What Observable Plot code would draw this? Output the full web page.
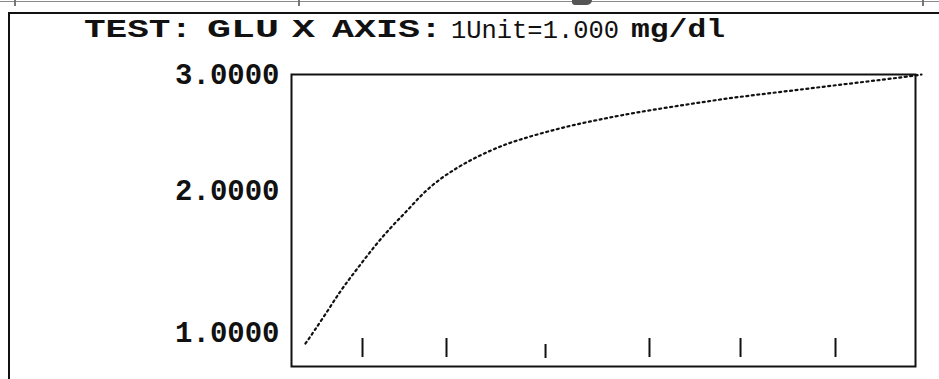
<!DOCTYPE html>
<html>
<head>
<meta charset="utf-8">
<script src="https://cdn.jsdelivr.net/npm/d3@7"></script>
<script src="https://cdn.jsdelivr.net/npm/@observablehq/plot@0.6"></script>
<style>
  html, body { margin: 0; padding: 0; background: #fff; }
  #page { position: relative; width: 939px; height: 379px; overflow: hidden; background: #fff; }
  #topline { position: absolute; left: 0; top: 1px; width: 939px; height: 1px; background: #8a8a8a; }
  .stub { position: absolute; top: 0; width: 2px; height: 6px; background: #777; }
  #blob { position: absolute; left: 572px; top: 0; width: 20px; height: 5px; background: #555; border-radius: 0 0 10px 6px; }
  #box { position: absolute; left: 8px; top: 12px; width: 960px; height: 400px; border-left: 2px solid #111; border-top: 2px solid #111; box-sizing: border-box; }
  .t { position: absolute; top: 16px; font-family: "Liberation Mono", monospace; font-size: 25px; font-weight: bold; line-height: 30px; color: #111; white-space: pre; transform-origin: 0 0; }
  .t.num { font-size: 26px; font-weight: normal; }
  #chart { position: absolute; left: 0; top: 0; }
</style>
</head>
<body>
<div id="page">
  <div id="topline"></div>
  <div class="stub" style="left:14px"></div>
  <div class="stub" style="left:298px"></div>
  <div class="stub" style="left:922px"></div>
  <div id="blob"></div>
  <div id="box"></div>
  <div class="t" data-w="108" style="left:84px">TEST:</div>
  <div class="t" data-w="72" style="left:207px">GLU</div>
  <div class="t" data-w="23" style="left:292px">X</div>
  <div class="t" data-w="110" style="left:332px">AXIS:</div>
  <div class="t num" data-w="168" style="left:451px">1Unit=1.000</div>
  <div class="t" data-w="94" style="left:631px">mg/dl</div>
  <div id="chart"></div>
</div>
<script>
// Curve (x in units, y in response)
const curveX = [2.24, 5.13, 7.85, 10.58, 13.14, 15.87, 18.59, 21.15, 23.88, 26.60, 29.17, 31.89, 34.62, 37.18, 39.90, 42.63, 45.19, 47.92, 50.64, 54.81, 60.26, 65.54, 70.83, 76.28, 81.57, 86.86, 92.31, 97.60, 100.96];
const curveY = [0.939, 1.096, 1.270, 1.419, 1.567, 1.713, 1.842, 1.982, 2.094, 2.184, 2.258, 2.325, 2.384, 2.427, 2.470, 2.509, 2.544, 2.575, 2.606, 2.650, 2.699, 2.744, 2.788, 2.825, 2.861, 2.898, 2.935, 2.972, 3.000];
// Standard markers along x
const markerX = [11.38, 24.84, 40.71, 57.37, 71.96, 87.18];
// Y tick values
const yTicks = [1, 2, 3];

// stretch the title words horizontally like the printed original
document.querySelectorAll(".t").forEach(el => {
  const w = el.getBoundingClientRect().width;
  el.style.transform = `scaleX(${(+el.dataset.w / w).toFixed(3)})`;
});

const curve = curveX.map((x, i) => ({x, y: curveY[i]}));
const markersMain = markerX.filter((d, i) => i !== 2);
const markersLow = markerX.filter((d, i) => i === 2);

const chart = Plot.plot({
  width: 939,
  height: 379,
  marginLeft: 291,
  marginRight: 24,
  marginTop: 74,
  marginBottom: 13,
  style: {fontFamily: "Liberation Mono, monospace", fontWeight: "bold", fontSize: "29px", color: "#111", background: "transparent"},
  x: {domain: [0, 100], axis: null},
  y: {type: "pow", exponent: 0.6, domain: [0.808, 3]},
  marks: [
    Plot.axisY(yTicks, {tickSize: 0, tickPadding: 12, tickFormat: d3.format(".4f"), fontSize: 29, fontWeight: "bold", fill: "#111", label: null}),
    Plot.frame({stroke: "#111", strokeWidth: 2}),
    Plot.ruleX(markersMain, {x: d => d, stroke: "#111", strokeWidth: 2, insetTop: 264, insetBottom: 9}),
    Plot.ruleX(markersLow, {x: d => d, stroke: "#111", strokeWidth: 2, insetTop: 270, insetBottom: 8}),
    Plot.line(curve, {x: "x", y: "y", stroke: "#111", strokeWidth: 2.2, strokeDasharray: "2 3.5", curve: "basis", clip: false})
  ]
});
document.getElementById("chart").appendChild(chart);
</script>
</body>
</html>
